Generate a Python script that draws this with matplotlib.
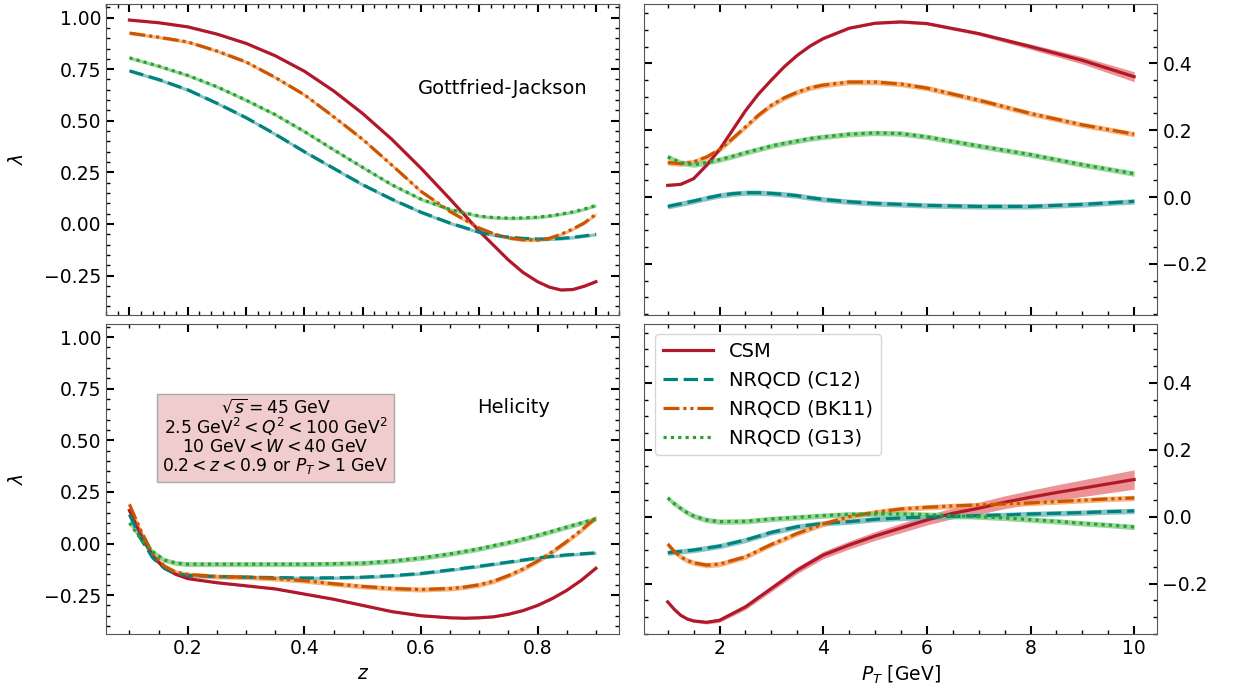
import numpy as np
import matplotlib
matplotlib.use("Agg")
import matplotlib.pyplot as plt
from matplotlib.ticker import AutoMinorLocator

# ---- data ----
# z dependence, Gottfried-Jackson frame
z_gj = [0.1, 0.15, 0.2, 0.25, 0.3, 0.35, 0.4, 0.45, 0.5, 0.55, 0.6, 0.65, 0.7, 0.725, 0.75, 0.775, 0.8, 0.82, 0.84, 0.86, 0.88, 0.9]
gj_csm = [0.988, 0.975, 0.955, 0.92, 0.875, 0.815, 0.74, 0.645, 0.535, 0.41, 0.27, 0.12, -0.035, -0.105, -0.175, -0.235, -0.28, -0.306, -0.32, -0.318, -0.302, -0.28]
gj_c12 = [0.742, 0.70, 0.65, 0.585, 0.515, 0.435, 0.35, 0.27, 0.19, 0.12, 0.057, 0.004, -0.04, -0.054, -0.064, -0.07, -0.073, -0.073, -0.07, -0.065, -0.058, -0.05]
gj_bk11 = [0.925, 0.905, 0.882, 0.838, 0.785, 0.71, 0.626, 0.52, 0.41, 0.285, 0.158, 0.06, -0.02, -0.048, -0.068, -0.077, -0.078, -0.07, -0.05, -0.025, 0.005, 0.047]
gj_g13 = [0.805, 0.765, 0.72, 0.665, 0.60, 0.53, 0.448, 0.36, 0.274, 0.19, 0.12, 0.07, 0.038, 0.031, 0.028, 0.029, 0.033, 0.039, 0.048, 0.058, 0.072, 0.09]

# z dependence, helicity frame
z_hx = [0.1, 0.12, 0.14, 0.16, 0.18, 0.2, 0.25, 0.3, 0.35, 0.4, 0.45, 0.5, 0.55, 0.6, 0.65, 0.675, 0.7, 0.725, 0.75, 0.775, 0.8, 0.825, 0.85, 0.875, 0.9]
hx_csm = [0.16, 0.04, -0.06, -0.12, -0.15, -0.17, -0.19, -0.205, -0.22, -0.245, -0.27, -0.3, -0.33, -0.35, -0.36, -0.362, -0.36, -0.355, -0.343, -0.325, -0.3, -0.267, -0.227, -0.178, -0.12]
hx_c12 = [0.14, 0.02, -0.07, -0.12, -0.145, -0.155, -0.16, -0.163, -0.165, -0.167, -0.166, -0.163, -0.156, -0.145, -0.128, -0.119, -0.11, -0.1, -0.09, -0.08, -0.07, -0.062, -0.055, -0.05, -0.045]
hx_bk11 = [0.19, 0.06, -0.05, -0.11, -0.14, -0.15, -0.16, -0.163, -0.17, -0.18, -0.195, -0.208, -0.218, -0.223, -0.218, -0.211, -0.2, -0.182, -0.155, -0.123, -0.085, -0.04, 0.01, 0.065, 0.125]
hx_g13 = [0.1, 0.02, -0.04, -0.08, -0.095, -0.1, -0.1, -0.1, -0.1, -0.1, -0.098, -0.095, -0.085, -0.07, -0.05, -0.038, -0.025, -0.01, 0.005, 0.022, 0.04, 0.06, 0.08, 0.1, 0.12]

# P_T dependence, Gottfried-Jackson frame
pt = [1, 1.25, 1.5, 1.75, 2, 2.25, 2.5, 2.75, 3, 3.25, 3.5, 3.75, 4, 4.5, 5, 5.5, 6, 7, 8, 9, 10]
pgj_csm = [0.035, 0.038, 0.055, 0.095, 0.142, 0.2, 0.258, 0.308, 0.35, 0.39, 0.424, 0.452, 0.474, 0.505, 0.52, 0.524, 0.519, 0.489, 0.45, 0.409, 0.36]
pgj_c12 = [-0.028, -0.02, -0.012, -0.003, 0.005, 0.01, 0.013, 0.013, 0.011, 0.008, 0.004, -0.002, -0.007, -0.014, -0.019, -0.022, -0.025, -0.028, -0.028, -0.022, -0.013]
pgj_bk11 = [0.103, 0.1, 0.105, 0.12, 0.142, 0.175, 0.21, 0.245, 0.275, 0.297, 0.314, 0.327, 0.335, 0.344, 0.344, 0.338, 0.326, 0.29, 0.25, 0.216, 0.188]
pgj_g13 = [0.12, 0.103, 0.097, 0.103, 0.112, 0.122, 0.133, 0.143, 0.153, 0.161, 0.168, 0.175, 0.18, 0.188, 0.192, 0.19, 0.18, 0.153, 0.127, 0.097, 0.07]

# P_T dependence, helicity frame
pt_hx = [1, 1.125, 1.25, 1.375, 1.5, 1.75, 2, 2.5, 3, 3.5, 4, 4.5, 5, 5.5, 6, 6.5, 7, 7.5, 8, 8.5, 9, 9.5, 10]
phx_csm = [-0.255, -0.277, -0.295, -0.306, -0.312, -0.316, -0.31, -0.27, -0.215, -0.16, -0.115, -0.085, -0.058, -0.034, -0.01, 0.01, 0.025, 0.043, 0.058, 0.072, 0.085, 0.098, 0.111]
phx_c12 = [-0.108, -0.106, -0.104, -0.102, -0.1, -0.094, -0.088, -0.07, -0.047, -0.03, -0.02, -0.015, -0.008, -0.004, -0.001, 0.001, 0.003, 0.005, 0.008, 0.01, 0.012, 0.015, 0.017]
phx_bk11 = [-0.082, -0.104, -0.12, -0.131, -0.138, -0.145, -0.142, -0.12, -0.083, -0.05, -0.022, 0.0, 0.013, 0.023, 0.028, 0.032, 0.035, 0.038, 0.041, 0.045, 0.049, 0.053, 0.056]
phx_g13 = [0.056, 0.039, 0.025, 0.012, 0.002, -0.01, -0.015, -0.014, -0.007, -0.002, 0.003, 0.007, 0.008, 0.008, 0.006, 0.003, 0.0, -0.004, -0.009, -0.014, -0.02, -0.025, -0.031]

# CSM uncertainty (half widths at the pt points)
pgj_csm_err = [0.003, 0.003, 0.003, 0.003, 0.003, 0.003, 0.003, 0.003, 0.003, 0.003, 0.003, 0.003, 0.003, 0.003, 0.003, 0.004, 0.004, 0.005, 0.008, 0.011, 0.015]
phx_csm_err = [0.004, 0.004, 0.004, 0.004, 0.004, 0.005, 0.006, 0.008, 0.009, 0.01, 0.011, 0.012, 0.013, 0.014, 0.015, 0.016, 0.018, 0.019, 0.021, 0.023, 0.025, 0.027, 0.029]
nrqcd_err = 0.008

labels = ["CSM", "NRQCD (C12)", "NRQCD (BK11)", "NRQCD (G13)"]
colors = ["#b2182b", "#00827f", "#cc5500", "#2ca02c"]
bands = ["#e8787c", "#6cb8b5", "#f5a45e", "#7fcc86"]
styles = ["-", (0, (4.5, 1.8)), (0, (5, 1.2, 1, 1.2, 1, 1.2)), (0, (1, 1.3))]

plt.rcParams["font.size"] = 13.5
fig, axes = plt.subplots(2, 2, figsize=(12.34, 6.94), dpi=100)
fig.subplots_adjust(left=0.086, right=0.938, top=0.994, bottom=0.086, wspace=0.049, hspace=0.029)


def draw(ax, x, curves, errs):
    x = np.array(x)
    for y, e, c, b, ls, lab in zip(curves, errs, colors, bands, styles, labels):
        y = np.array(y)
        e = np.array(e)
        ax.fill_between(x, y - e, y + e, color=b, alpha=0.8, lw=0)
        ax.plot(x, y, color=c, ls=ls, lw=2.3, label=lab)


draw(axes[0, 0], z_gj, [gj_csm, gj_c12, gj_bk11, gj_g13], [0.004, nrqcd_err, nrqcd_err, nrqcd_err])
draw(axes[1, 0], z_hx, [hx_csm, hx_c12, hx_bk11, hx_g13], [0.004, nrqcd_err, 0.012, 0.012])
draw(axes[0, 1], pt, [pgj_csm, pgj_c12, pgj_bk11, pgj_g13], [pgj_csm_err, nrqcd_err, nrqcd_err, nrqcd_err])
draw(axes[1, 1], pt_hx, [phx_csm, phx_c12, phx_bk11, phx_g13], [phx_csm_err, nrqcd_err, nrqcd_err, nrqcd_err])

for ax in axes.flat:
    ax.xaxis.set_minor_locator(AutoMinorLocator())
    ax.yaxis.set_minor_locator(AutoMinorLocator())
    ax.tick_params(which="both", direction="in", top=True, right=True, left=True, bottom=True)
    ax.tick_params(which="major", length=6, width=1.5)
    ax.tick_params(which="minor", length=3, width=1)
    for s in ax.spines.values():
        s.set_edgecolor("#555555")

for ax in axes[:, 0]:
    ax.set_xlim(0.06, 0.94)
    ax.set_ylim(-0.44, 1.065)
    ax.set_yticks([-0.25, 0, 0.25, 0.5, 0.75, 1.0])
    ax.set_ylabel(r"$\lambda$", labelpad=12)
for ax in axes[:, 1]:
    ax.set_xlim(0.55, 10.45)
    ax.set_ylim(-0.352, 0.577)
    ax.set_yticks([-0.2, 0, 0.2, 0.4])
    ax.tick_params(labelleft=False, labelright=True)
for ax in axes[0, :]:
    ax.tick_params(labelbottom=False)

axes[1, 0].set_xticks([0.2, 0.4, 0.6, 0.8])
axes[1, 0].set_xlabel(r"$z$")
axes[1, 1].set_xlabel(r"$P_T$ [GeV]")

axes[0, 0].text(0.772, 0.73, "Gottfried-Jackson", transform=axes[0, 0].transAxes, ha="center", va="center", fontsize=14)
axes[1, 0].text(0.795, 0.73, "Helicity", transform=axes[1, 0].transAxes, ha="center", va="center", fontsize=14)
axes[1, 0].text(0.33, 0.635,
                "$\\sqrt{s} = 45$ GeV\n2.5 GeV$^2 < Q^2 < 100$ GeV$^2$\n10 GeV$ < W < 40$ GeV\n$0.2 < z < 0.9$ or $P_T > 1$ GeV",
                transform=axes[1, 0].transAxes, ha="center", va="center", fontsize=12.3, linespacing=1.0,
                bbox=dict(boxstyle="square,pad=0.3", facecolor="#f0cccc", edgecolor="#aaaaaa"))

axes[1, 1].legend(loc="upper left", fontsize=14, handlelength=2.6, borderaxespad=0.55)

fig.savefig("out.png", dpi=100)
